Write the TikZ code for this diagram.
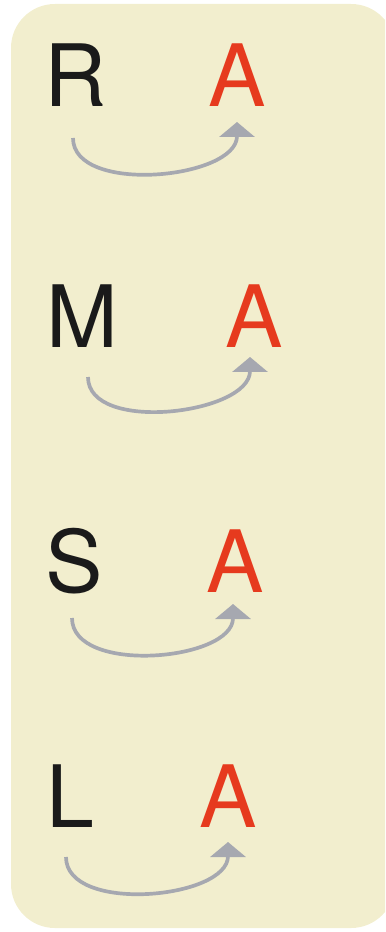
\documentclass[tikz,border=0pt]{standalone}
\usepackage{fontspec}
\setmainfont{TeX Gyre Heros}
\usepackage{xcolor}
\usetikzlibrary{arrows, arrows.meta}
\definecolor{panel}{RGB}{242,238,206}
\definecolor{letterred}{RGB}{230,58,30}
\definecolor{letterblack}{RGB}{26,26,26}
\definecolor{arrowgray}{RGB}{166,168,176}
\tikzset{
  letter/.style={anchor=base, inner sep=0pt, text=letterblack, font=\fontsize{49}{49}\selectfont},
  target/.style={letter, text=letterred},
  link/.style={arrowgray, line width=2.1pt, -{Triangle[width=7mm,length=3mm]}}
}
\begin{document}
\begin{tikzpicture}[x=0.02cm,y=-0.02cm]
\useasboundingbox (0,0) rectangle (385,932);
\clip (0,0) rectangle (385,932);
\fill[panel, rounded corners=25] (11,4) rectangle (395,928);
\node[letter] (r) at (76,107) {R};
\node[target] (a1) at (237,107) {A};
\node[letter] (m) at (82,347) {M};
\node[target] (a2) at (254,347) {A};
\node[letter] (s) at (74,592) {S};
\node[target] (a3) at (235,592) {A};
\node[letter] (l) at (70,827) {L};
\node[target] (a4) at (228,827) {A};
\draw[link] ([shift={(-3,31)}]r.base) .. controls +(0,57) and +(0,57) .. ([shift={(0,15)}]a1.base);
\draw[link] ([shift={(6,30)}]m.base) .. controls +(0,57) and +(0,57) .. ([shift={(-4,10)}]a2.base);
\draw[link] ([shift={(-2,26)}]s.base) .. controls +(0,57) and +(0,57) .. ([shift={(-2,12)}]a3.base);
\draw[link] ([shift={(-4,30)}]l.base) .. controls +(0,57) and +(0,57) .. ([shift={(0,15)}]a4.base);
\end{tikzpicture}
\end{document}
